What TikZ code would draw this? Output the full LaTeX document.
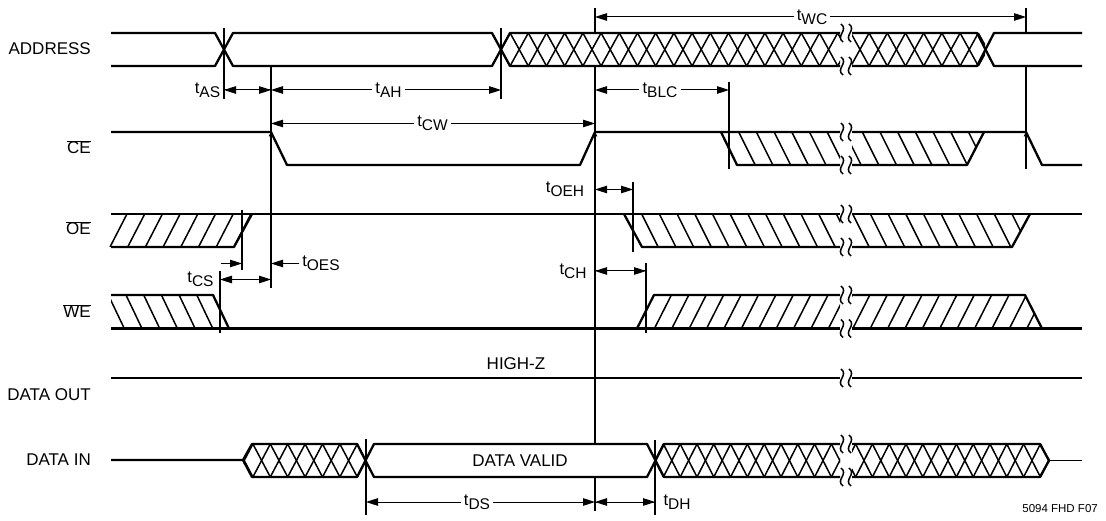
\documentclass[tikz,border=0pt]{standalone}
\usepackage{fontspec}
\setmainfont{Liberation Sans}
\usepackage{tikz}
\usetikzlibrary{arrows.meta}
\newcommand{\tparam}[1]{{\fontsize{16.5}{16}\selectfont t}\raisebox{-4pt}{\fontsize{15.5}{15}\selectfont #1}}
\newcommand{\barred}[1]{$\overline{\mbox{#1}}$}
\newcommand{\breakmark}[1]{%
  \foreach \sx in {842, 850} {
    \path [draw, line width=1.5pt] (\sx-1,#1-9) .. controls (\sx+7,#1-3) and (\sx-7,#1+3) .. (\sx+1,#1+9);
  }
}
\newcommand{\crosscells}[6]{%
  \begin{scope}
    \clip (#1,#3-2) rectangle (#2,#4+2);
    \foreach \k in {0,...,24} {
      \path [Hatch, draw] ({#5+\k*#6-#6/2},#3) -- ({#5+\k*#6+#6/2},#4);
      \path [Hatch, draw] ({#5+\k*#6-#6/2},#4) -- ({#5+\k*#6+#6/2},#3);
    }
  \end{scope}
}
\newcommand{\slantcells}[5]{%
  \begin{scope}
    \clip #1;
    \foreach \x in {#2} {
      \path [Hatch, draw] (\x,#3) -- ({\x+#5},#4);
    }
  \end{scope}
}

\begin{document}
\begin{tikzpicture}
  [
    x=1pt, y=-1pt,
    Signal/.style={line width=2.3pt, line join=round},
    Hatch/.style={line width=1.5pt},
    Guide/.style={line width=1.1pt},
    Heavy/.style={line width=2pt},
    Dim/.style={line width=1pt, -{Triangle[length=12pt, width=7.5pt]}},
    Name/.style={anchor=base east, inner sep=0pt, font=\fontsize{17}{19}\selectfont},
    Note/.style={anchor=base, inner sep=0pt, font=\fontsize{17}{19}\selectfont},
    Param/.style={inner sep=3pt}
  ]
  \useasboundingbox (0,0) rectangle (1106,521);
  % Names
  \node[Name] (addr) at (91, 55) {ADDRESS};
  \node[Name] (ce) at (91, 154) {\barred{CE}};
  \node[Name] (oe) at (91, 235) {\barred{OE}};
  \node[Name] (we) at (91, 318) {\barred{WE}};
  \node[Name] (dout) at (91, 400) {DATA OUT};
  \node[Name] (din) at (91, 465) {DATA IN};
  \node[Note] (highz) at (516, 370) {HIGH-Z};
  \node[Note] (valid) at (520, 466) {DATA VALID};
  \node[anchor=base east, inner sep=0pt, font=\fontsize{11.5}{13}\selectfont] (code) at (1098, 512) {5094 FHD F07};
  % Hatching
  \crosscells{501}{840}{33}{66}{501}{18.2}
  \crosscells{852}{985}{33}{66}{841.8}{18.2}
  \crosscells{243}{366}{444}{477}{244.2}{17.4}
  \crosscells{655}{840}{444}{477}{655}{16.8}
  \crosscells{852}{1049}{444}{477}{847.2}{16.8}
  \slantcells{(721,132) -- (840,132) -- (840,165) -- (737,165) -- cycle}{738.7,756.4,...,860}{132}{165}{16.5}
  \slantcells{(852,132) -- (984,132) -- (967,165) -- (852,165) -- cycle}{826.9,844.6,...,985}{132}{165}{16.5}
  \slantcells{(105,214) -- (252,214) -- (234,247) -- (105,247) -- cycle}{127,144.7,...,252}{214}{247}{-17}
  \slantcells{(624,214) -- (840,214) -- (840,247) -- (642,247) -- cycle}{641.7,659.4,...,860}{214}{247}{16.5}
  \slantcells{(852,214) -- (1030,214) -- (1012,247) -- (852,247) -- cycle}{835,852.7,...,1030}{214}{247}{16.5}
  \slantcells{(111,295) -- (213,295) -- (229,328.5) -- (111,328.5) -- cycle}{90.6,108.3,...,213}{295}{328.5}{16}
  \slantcells{(654,295) -- (840,295) -- (840,328.5) -- (637,328.5) -- cycle}{671.4,688.8,...,860}{295}{328.5}{-17}
  \slantcells{(852,295) -- (1025,295) -- (1042,328.5) -- (852,328.5) -- cycle}{852.4,869.8,...,1045}{295}{328.5}{-17}
  % Waves
  \draw[Signal] (111,33) -- (215,33) -- (233,66) -- (492,66) -- (510,33) -- (840,33);
  \draw[Signal] (111,66) -- (215,66) -- (233,33) -- (492,33) -- (510,66) -- (840,66);
  \draw[Signal] (852,33) -- (977,33) -- (994,66) -- (1082,66);
  \draw[Signal] (852,66) -- (977,66) -- (994,33) -- (1082,33);
  \draw[Signal] (111,132) -- (271,132) -- (287,165) -- (580,165) -- (595,132) -- (840,132);
  \draw[Signal] (721,132) -- (737,165) -- (840,165);
  \draw[Signal] (852,132) -- (1026,132) -- (1042,165) -- (1082,165);
  \draw[Signal] (852,165) -- (967,165) -- (984,132);
  \draw[Signal] (111,214) -- (840,214);
  \draw[Signal] (111,247) -- (234,247) -- (252,214);
  \draw[Signal] (624,214) -- (642,247) -- (840,247);
  \draw[Signal] (852,214) -- (1082,214);
  \draw[Signal] (852,247) -- (1012,247) -- (1030,214);
  \draw[Signal] (111,295) -- (213,295) -- (229,328.5);
  \draw[Signal] (111,328.5) -- (840,328.5);
  \draw[Signal] (637,328.5) -- (654,295) -- (840,295);
  \draw[Signal] (852,295) -- (1025,295) -- (1042,328.5);
  \draw[Signal] (852,328.5) -- (1082,328.5);
  \draw[Signal] (111,378) -- (840,378);
  \draw[Signal] (852,378) -- (1082,378);
  \draw[Signal] (111,460) -- (243,460) -- (252,444) -- (357,444) -- (374,477) -- (647,477) -- (664,444) -- (840,444);
  \draw[Signal] (243,460) -- (252,477) -- (357,477) -- (374,444) -- (647,444) -- (664,477) -- (840,477);
  \draw[Signal] (852,444) -- (1040,444) -- (1049,460.5);
  \draw[Signal] (852,477) -- (1040,477) -- (1049,460.5);
  \draw[Guide] (1049,460.5) -- (1082,460.5);
  \foreach \sy in {33, 66, 132, 165, 214, 247, 295, 328.5, 378, 444, 477} {
    \breakmark{\sy}
  }
  % Guides
  \foreach \gx/\gtop/\gbot in {224/28/99, 501/28/99, 271/66/132, 595/8/33, 729/82/169, 1026/8/33, 1026/66/169, 633/182/252, 242/210/270, 220/271/333, 646/263/333, 366/439/515, 655/440/515, 595/477/511} {
    \draw[Guide] (\gx,\gtop) -- (\gx,\gbot);
  }
  \draw[Heavy] (271,132) -- (271,288);
  \draw[Heavy] (595,66) -- (595,444);
  \foreach \gx in {271, 595, 1026} {
    \fill (\gx-2.5,136.5) -- (\gx+2.5,136.5) -- (\gx,132) -- cycle;
  }
  % Timing
  \coordinate (asL) at (224, 90);
  \coordinate (asR) at (271, 90);
  \coordinate (ahL) at (271, 90);
  \coordinate (ahR) at (501, 90);
  \coordinate (cwL) at (271, 123.5);
  \coordinate (cwR) at (595, 123.5);
  \coordinate (wcL) at (595, 17);
  \coordinate (wcR) at (1026, 17);
  \coordinate (blcL) at (595, 90);
  \coordinate (blcR) at (729, 90);
  \coordinate (oehL) at (595, 189.5);
  \coordinate (oehR) at (633, 189.5);
  \coordinate (chL) at (595, 271);
  \coordinate (chR) at (646, 271);
  \coordinate (csL) at (220, 279.5);
  \coordinate (csR) at (271, 279.5);
  \coordinate (oesT) at (221, 263.5);
  \coordinate (oesL) at (242, 263.5);
  \coordinate (oesR) at (271, 263.5);
  \coordinate (dsL) at (366, 502);
  \coordinate (dsR) at (595, 502);
  \coordinate (dhL) at (595, 502);
  \coordinate (dhR) at (655, 502);
  \node[Param] (tAS) at (207.5, 90) {\tparam{AS}};
  \node[Param] (tAH) at (388.5, 90) {\tparam{AH}};
  \node[Param] (tCW) at (432.5, 123.5) {\tparam{CW}};
  \node[Param] (tWC) at (812, 17) {\tparam{WC}};
  \node[Param] (tBLC) at (660, 90) {\tparam{BLC}};
  \node[Param] (tOEH) at (565, 189.5) {\tparam{OEH}};
  \node[Param] (tCH) at (573, 271) {\tparam{CH}};
  \node[Param] (tCS) at (200.5, 279.5) {\tparam{CS}};
  \node[Param] (tOES) at (321, 263.5) {\tparam{OES}};
  \node[Param] (tDS) at (477, 502) {\tparam{DS}};
  \node[Param] (tDH) at (677, 502) {\tparam{DH}};
  \path [Dim, draw] (asL) -- (asR);
  \path [Dim, draw] (asR) -- (asL);
  \path [Dim, draw] (tAH) -- (ahL);
  \path [Dim, draw] (tAH) -- (ahR);
  \path [Dim, draw] (tCW) -- (cwL);
  \path [Dim, draw] (tCW) -- (cwR);
  \path [Dim, draw] (tWC) -- (wcL);
  \path [Dim, draw] (tWC) -- (wcR);
  \path [Dim, draw] (tBLC) -- (blcL);
  \path [Dim, draw] (tBLC) -- (blcR);
  \path [Dim, draw] (oehL) -- (oehR);
  \path [Dim, draw] (oehR) -- (oehL);
  \path [Dim, draw] (chL) -- (chR);
  \path [Dim, draw] (chR) -- (chL);
  \path [Dim, draw] (csL) -- (csR);
  \path [Dim, draw] (csR) -- (csL);
  \path [Dim, draw] (oesT) -- (oesL);
  \path [Dim, draw] (tOES) -- (oesR);
  \path [Dim, draw] (tDS) -- (dsL);
  \path [Dim, draw] (tDS) -- (dsR);
  \path [Dim, draw] (dhL) -- (dhR);
  \path [Dim, draw] (dhR) -- (dhL);
\end{tikzpicture}
\end{document}
